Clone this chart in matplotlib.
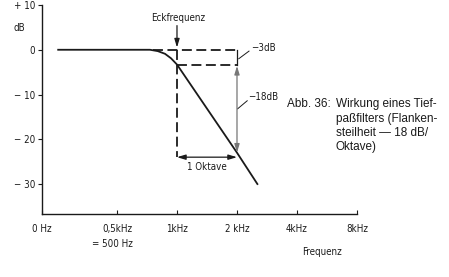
import matplotlib
matplotlib.use('Agg')
import matplotlib.pyplot as plt

# Data: x in octaves relative to 1 kHz, y in dB
curve_oct = [-1.98, -0.45, -0.32, -0.2, -0.1, 0.0, 1.0, 1.34]
curve_db = [0.0, 0.0, -0.3, -0.9, -1.9, -3.3, -23.0, -30.0]

tick_pos = [-2.25, -1, 0, 1, 2, 3]
tick_labels = ['0 Hz', '0,5kHz', '1kHz', '2 kHz', '4kHz', '8kHz']
ytick_pos = [10, 0, -10, -20, -30]
ytick_labels = ['+ 10', '0', '\u2212 10', '\u2212 20', '\u2212 30']

corner_db = -3.3
octave_db = -23.0

narrow = ['Liberation Sans Narrow', 'DejaVu Sans']
ink = '#1a1a1a'
fs = 7

fig = plt.figure(figsize=(4.49, 2.77), dpi=100)
ax = fig.add_axes([0.0935, 0.2274, 0.7016, 0.7545])

# Filter curve
ax.plot(curve_oct, curve_db, color=ink, lw=1.3)

# Dashed construction lines
dash = dict(color=ink, lw=1.3, dashes=(5.5, 2.5))
ax.plot([-0.4, 1.0], [0, 0], **dash)
ax.plot([0, 1.0], [corner_db, corner_db], **dash)
ax.plot([0, 0], [0, -24.0], **dash)

# -3 dB bracket at 2 kHz
ax.plot([1.0, 1.0], [0, corner_db], color=ink, lw=0.9)

# -18 dB dimension arrow
ax.annotate('', xy=(1.0, octave_db), xytext=(1.0, corner_db - 0.3),
            arrowprops=dict(arrowstyle='<|-|>,head_length=0.5,head_width=0.15',
                            color='#777777', lw=0.9, shrinkA=0, shrinkB=0))

# 1 Oktave arrow
ax.annotate('', xy=(1.0, -24.0), xytext=(0.0, -24.0),
            arrowprops=dict(arrowstyle='<|-|>,head_length=0.5,head_width=0.15',
                            color=ink, lw=0.9, shrinkA=0, shrinkB=0))
ax.text(0.5, -26.3, '1 Oktave', ha='center', va='center', fontsize=fs,
        family=narrow, stretch='condensed', color=ink)

# Eckfrequenz arrow
ax.annotate('', xy=(0.0, 0.5), xytext=(0.0, 5.4),
            arrowprops=dict(arrowstyle='-|>,head_length=0.5,head_width=0.15',
                            color=ink, lw=0.9, shrinkA=0, shrinkB=0))
ax.text(0.02, 7.1, 'Eckfrequenz', ha='center', va='center', fontsize=fs,
        family=narrow, stretch='condensed', color=ink)

# -3dB and -18dB labels with leaders
ax.plot([1.03, 1.2], [-2.0, -0.3], color=ink, lw=0.7)
ax.text(1.23, 0.4, '\u22123dB', ha='left', va='center', fontsize=fs,
        family=narrow, stretch='condensed', color=ink)
ax.plot([1.01, 1.17], [-13.2, -11.4], color=ink, lw=0.7)
ax.text(1.18, -10.6, '\u221218dB', ha='left', va='center', fontsize=fs,
        family=narrow, stretch='condensed', color=ink)

# Axes styling
ax.set_xlim(-2.25, 3.0)
ax.set_ylim(-36.7, 10)
ax.spines['top'].set_visible(False)
ax.spines['right'].set_visible(False)
ax.spines['left'].set_color(ink)
ax.spines['bottom'].set_color(ink)
ax.spines['left'].set_linewidth(1.0)
ax.spines['bottom'].set_linewidth(1.0)

ax.set_xticks(tick_pos)
ax.set_xticklabels(tick_labels, family=narrow, stretch='condensed',
                   fontsize=fs, color=ink)
ax.set_yticks(ytick_pos)
ax.set_yticklabels(ytick_labels, family=narrow, stretch='condensed',
                   fontsize=fs, color=ink)
ax.tick_params(axis='x', direction='in', length=3, width=0.8, pad=7, color=ink)
ax.tick_params(axis='y', direction='out', length=3, width=0.8, pad=2, color=ink)

ax.text(-1.07, -43.3, '= 500 Hz', ha='center', va='center', fontsize=fs,
        family=narrow, stretch='condensed', color=ink, clip_on=False)
fig.text(0.673, 0.09, 'Frequenz', ha='left', va='center', fontsize=fs,
         family=narrow, stretch='condensed', color=ink)
fig.text(0.03, 0.90, 'dB', ha='left', va='center', fontsize=fs,
         family=narrow, stretch='condensed', color=ink)

# Caption
fig.text(0.639, 0.6245, 'Abb. 36:', ha='left', va='center', fontsize=8.5,
         family='Liberation Sans', color=ink)
caption = ['Wirkung eines Tief-', 'paßfilters (Flanken-',
           'steilheit \u2014 18 dB/', 'Oktave)']
for i, line in enumerate(caption):
    fig.text(0.748, 0.6245 - i * 0.0523, line, ha='left', va='center',
             fontsize=8.5, family='Liberation Sans', color=ink)

fig.savefig('out.png', dpi=100)
